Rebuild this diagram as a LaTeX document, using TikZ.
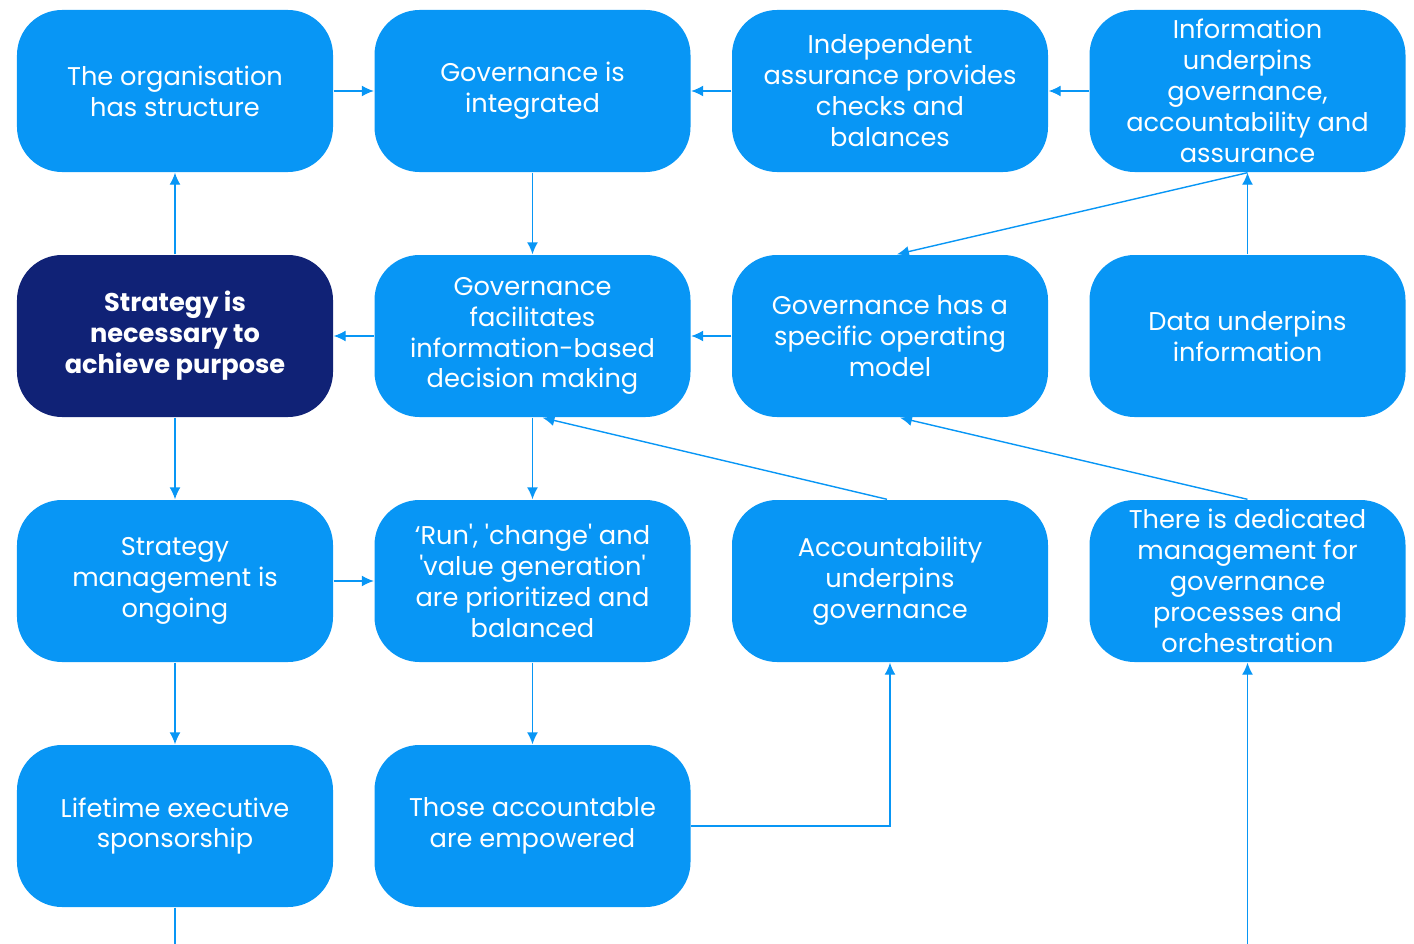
\documentclass[tikz,border=0pt]{standalone}
\usepackage{fontspec}
\setmainfont{Poppins}[Ligatures=TeXOff]
\usetikzlibrary{positioning,arrows.meta}
\definecolor{boxblue}{RGB}{8,150,245}
\definecolor{navy}{RGB}{16,34,118}

\begin{document}
\begin{tikzpicture}[-{Latex[length=0.24cm,width=0.22cm]},node distance =4.9cm and 7.15cm ,on grid ,
    line width=0.8pt, draw=boxblue,
    block/.style ={rectangle, rounded corners=0.9cm, fill=boxblue, draw=none,
    text=white, align=center, minimum width=6.32cm, minimum height=3.24cm,
    font=\fontsize{14.6pt}{17.6pt}\selectfont},
    keybox/.style={block, fill=navy, font=\fontsize{14.6pt}{17.6pt}\selectfont\bfseries}
    ]
\useasboundingbox (0,0) rectangle (28.28,-18.88);

\node[block] (org) at (3.50,-1.82) {The organisation\\has structure};
\node[block] (integ) [right = of org] {Governance is\\integrated};
\node[block] (assur) [right = of integ] {Independent\\assurance provides\\checks and\\balances};
\node[block] (info) [right = of assur] {Information\\underpins\\governance,\\accountability and\\assurance};

\node[keybox] (strat) [below = of org] {Strategy is\\necessary to\\achieve purpose};
\node[block] (facil) [right = of strat] {Governance\\facilitates\\information-based\\decision making};
\node[block] (opmod) [right = of facil] {Governance has a\\specific operating\\model};
\node[block] (data) [right = of opmod] {Data underpins\\information};

\node[block] (ongo) [below = of strat] {Strategy\\management is\\ongoing};
\node[block] (run) [right = of ongo] {‘Run', 'change' and\\'value generation'\\are prioritized and\\balanced};
\node[block] (acct) [right = of run] {Accountability\\underpins\\governance};
\node[block] (dedic) [right = of acct] {There is dedicated\\management for\\governance\\processes and\\orchestration};

\node[block] (life) [below = of ongo] {Lifetime executive\\sponsorship};
\node[block] (empow) [right = of life] {Those accountable\\are empowered};

\coordinate (bl) at (3.50,-18.89);
\coordinate (br) at (dedic |- bl);

\draw (org) -- (integ);
\draw (assur) -- (integ);
\draw (info) -- (assur);
\draw (integ) -- (facil);
\draw (data) -- (info);
\draw (info.south) -- ([xshift=0.14cm]opmod.north);
\draw (opmod) -- (facil);
\draw (facil) -- (strat);
\draw (strat) -- (org);
\draw (strat) -- (ongo);
\draw (facil) -- (run);
\draw ([xshift=-0.06cm]acct.north) -- ([xshift=0.2cm]facil.south);
\draw (dedic.north) -- ([xshift=0.2cm]opmod.south);
\draw (ongo) -- (run);
\draw (ongo) -- (life);
\draw (run) -- (empow);
\draw (empow.east) -| (acct.south);
\draw (life.south) |- (br) -- (dedic.south);
\end{tikzpicture}
\end{document}
